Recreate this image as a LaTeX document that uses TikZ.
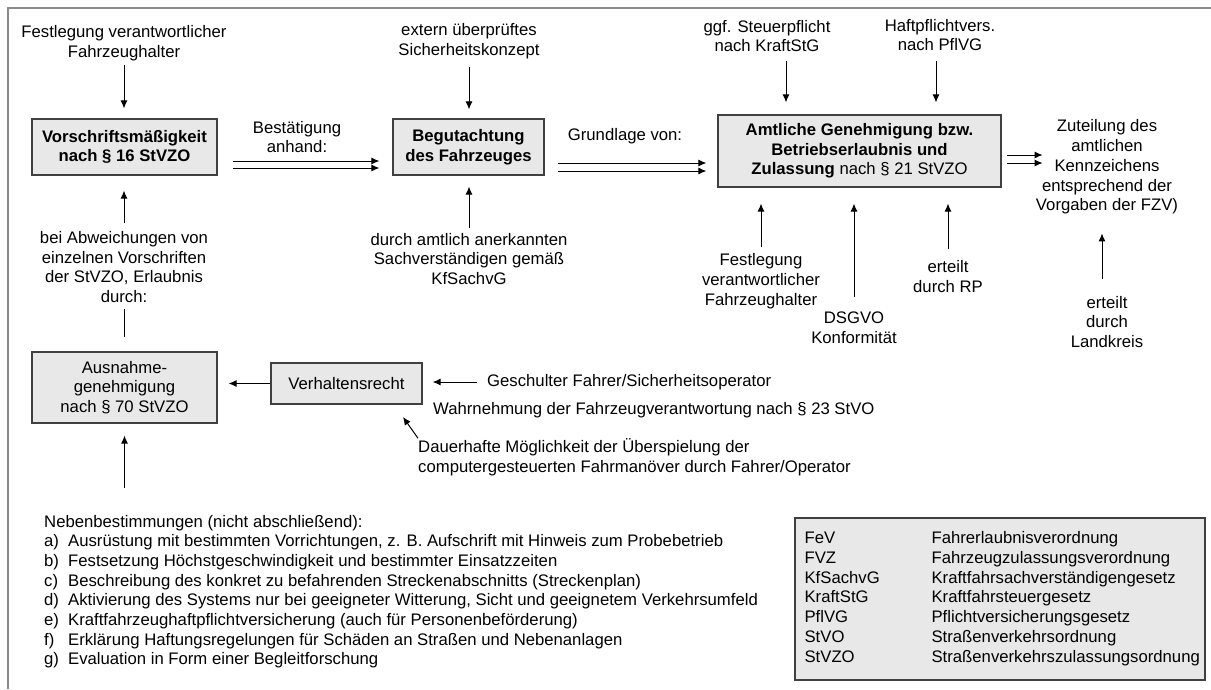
\documentclass[tikz,border=0pt]{standalone}
\usepackage{fontspec}
\setmainfont{Liberation Sans}
\usetikzlibrary{arrows.meta,positioning,calc}
\definecolor{boxgray}{HTML}{E8E8E8}
\definecolor{rimgray}{HTML}{404040}
\definecolor{framegray}{HTML}{8A8A8A}
\newcommand{\diafont}{\fontsize{16.7}{19.7}\selectfont}

\begin{document}
\begin{tikzpicture}[x=1pt,y=-1pt,
		box/.style={draw=rimgray, line width=1.2pt, fill=boxgray, align=center, inner sep=0pt, font=\diafont},
		bbox/.style={box, font=\diafont\bfseries},
		txt/.style={align=center, inner sep=0pt, font=\diafont},
		arr/.style={-{Latex[length=8pt,width=7pt]}, line width=1pt, shorten <=4pt, shorten >=10pt}]
		\useasboundingbox (0,0) rectangle (1211,689);
		% frame
		\draw[framegray, line width=2pt] (8,689) -- (8,8) -- (1211,8);
		% boxes
		\node[bbox, minimum width=185pt, minimum height=56pt] (vorschrift) at (124.5,147) {Vorschriftsmäßigkeit\\nach § 16 StVZO};
		\node[bbox, minimum width=151pt, minimum height=56pt] (begut) at (468.5,147) {Begutachtung\\des Fahrzeuges};
		\node[bbox, minimum width=283pt, minimum height=72pt] (amtlich) at (859.5,151) {Amtliche Genehmigung bzw.\\Betriebserlaubnis und\\Zulassung {\mdseries nach § 21 StVZO}};
		\node[box, minimum width=185pt, minimum height=71pt] (ausnahme) at (124.5,387.5) {Ausnahme-\\genehmigung\\nach § 70 StVZO};
		\node[box, minimum width=151pt, minimum height=41pt] (verhalten) at (346.5,383.5) {Verhaltensrecht};
		% texts
		\node[txt] (festA) at (124,43) {Festlegung verantwortlicher\\Fahrzeughalter};
		\node[txt] (extern) at (469,41) {extern überprüftes\\Sicherheitskonzept};
		\node[txt] (steuer) at (767,36) {ggf. Steuerpflicht\\nach KraftStG};
		\node[txt] (haft) at (940,35) {Haftpflichtvers.\\nach PflVG};
		\node[txt] (bestaet) at (297,137) {Bestätigung\\anhand:};
		\node[txt] (grundlage) at (625,136) {Grundlage von:};
		\node[txt] (abw) at (124,267) {bei Abweichungen von\\einzelnen Vorschriften\\der StVZO, Erlaubnis\\durch:};
		\node[txt] (durchKf) at (469,259) {durch amtlich anerkannten\\Sachverständigen gemäß\\KfSachvG};
		\node[txt] (festE) at (761,281) {Festlegung\\verantwortlicher\\Fahrzeughalter};
		\node[txt] (dsgvo) at (854,327.5) {DSGVO\\Konformität};
		\node[txt] (rp) at (948,276.5) {erteilt\\durch RP};
		\node[txt] (zuteil) at (1107,167) {Zuteilung des\\amtlichen\\Kennzeichens\\entsprechend der\\Vorgaben der FZV)};
		\node[txt] (landkreis) at (1107,322) {erteilt\\durch\\Landkreis};
		\node[txt, anchor=west] (geschult) at (487,382) {Geschulter Fahrer/Sicherheitsoperator};
		\node[txt, anchor=west] (wahrn) at (433,410) {Wahrnehmung der Fahrzeugverantwortung nach § 23 StVO};
		\node[txt, anchor=west, align=left] (dauer) at (418,457) {Dauerhafte Möglichkeit der Überspielung der\\computergesteuerten Fahrmanöver durch Fahrer/Operator};
		\coordinate (dtip) at (403,417);
		% list of conditions
		\node[txt, anchor=west, align=left] (liste) at (44,592) {\begin{tabular}{@{}l@{}}
				Nebenbestimmungen (nicht abschließend):\\
				\makebox[24pt][l]{a)}Ausrüstung mit bestimmten Vorrichtungen, z. B. Aufschrift mit Hinweis zum Probebetrieb\\
				\makebox[24pt][l]{b)}Festsetzung Höchstgeschwindigkeit und bestimmter Einsatzzeiten\\
				\makebox[24pt][l]{c)}Beschreibung des konkret zu befahrenden Streckenabschnitts (Streckenplan)\\
				\makebox[24pt][l]{d)}Aktivierung des Systems nur bei geeigneter Witterung, Sicht und geeignetem Verkehrsumfeld\\
				\makebox[24pt][l]{e)}Kraftfahrzeughaftpflichtversicherung (auch für Personenbeförderung)\\
				\makebox[24pt][l]{f)}Erklärung Haftungsregelungen für Schäden an Straßen und Nebenanlagen\\
				\makebox[24pt][l]{g)}Evaluation in Form einer Begleitforschung
			\end{tabular}};
		% abbreviations
		\node[box, minimum width=410pt, minimum height=162pt] (legende) at (1000,599) {};
		\node[txt, anchor=west, align=left] (abk) at ([xshift=10pt]legende.west) {\begin{tabular}{@{}p{127pt}@{}l@{}}
				FeV & Fahrerlaubnisverordnung\\
				FVZ & Fahrzeugzulassungsverordnung\\
				KfSachvG & Kraftfahrsachverständigengesetz\\
				KraftStG & Kraftfahrsteuergesetz\\
				PflVG & Pflichtversicherungsgesetz\\
				StVO & Straßenverkehrsordnung\\
				StVZO & Straßenverkehrszulassungsordnung
			\end{tabular}};
		% arrows top row
		\draw[arr] (festA.south) -- (festA.south |- vorschrift.north);
		\draw[arr, shorten <=8pt, shorten >=9pt] (extern.south) -- (extern.south |- begut.north);
		\draw[arr, shorten <=9pt, shorten >=12pt] ([xshift=19pt]steuer.south) -- ([xshift=19pt]steuer.south |- amtlich.north);
		\draw[arr, shorten <=10pt, shorten >=12pt] ([xshift=-4pt]haft.south) -- ([xshift=-4pt]haft.south |- amtlich.north);
		% double arrows
		\foreach \dy in {14,21}
			\draw[arr, shorten <=15pt, shorten >=13pt] ([yshift=-\dy pt]vorschrift.east) -- ([yshift=-\dy pt]vorschrift.east -| begut.west);
		\foreach \dy in {16,24}
			\draw[arr, shorten <=13pt, shorten >=11pt] ([yshift=-\dy pt]begut.east) -- ([yshift=-\dy pt]begut.east -| amtlich.west);
		\foreach \dy in {4,12}
			\draw[arr, shorten <=5pt, shorten >=0pt] ([yshift=-\dy pt]amtlich.east) -- ++(41,0);
		% arrows from below
		\draw[arr, shorten <=8pt, shorten >=15pt] (abw.north) -- (abw.north |- vorschrift.south);
		\draw[line width=1pt, shorten <=6pt, shorten >=14pt] (abw.south) -- (abw.south |- ausnahme.north);
		\draw[arr, shorten <=5pt, shorten >=11pt] (durchKf.north) -- (durchKf.north |- begut.south);
		\draw[arr, shorten <=6pt, shorten >=16pt] (festE.north) -- (festE.north |- amtlich.south);
		\draw[arr, shorten <=15pt, shorten >=16pt] (dsgvo.north) -- (dsgvo.north |- amtlich.south);
		\draw[arr, shorten <=11pt, shorten >=16pt] (rp.north) -- (rp.north |- amtlich.south);
		\draw[arr, shorten <=17pt, shorten >=19pt] ([xshift=-5pt]landkreis.north) -- ([xshift=-5pt]zuteil.south);
		\draw[arr, shorten <=25pt, shorten >=12pt] (ausnahme.south |- liste.north) -- (ausnahme.south);
		% lower row
		\draw[arr, shorten <=0pt, shorten >=11pt] (verhalten.west) -- (verhalten.west -| ausnahme.east);
		\draw[arr, shorten <=10pt, shorten >=10pt] (geschult.west) -- (geschult.west -| verhalten.east);
		\draw[arr, shorten <=0pt, shorten >=0pt] (dauer.north west) -- (dtip);
	\end{tikzpicture}
\end{document}
